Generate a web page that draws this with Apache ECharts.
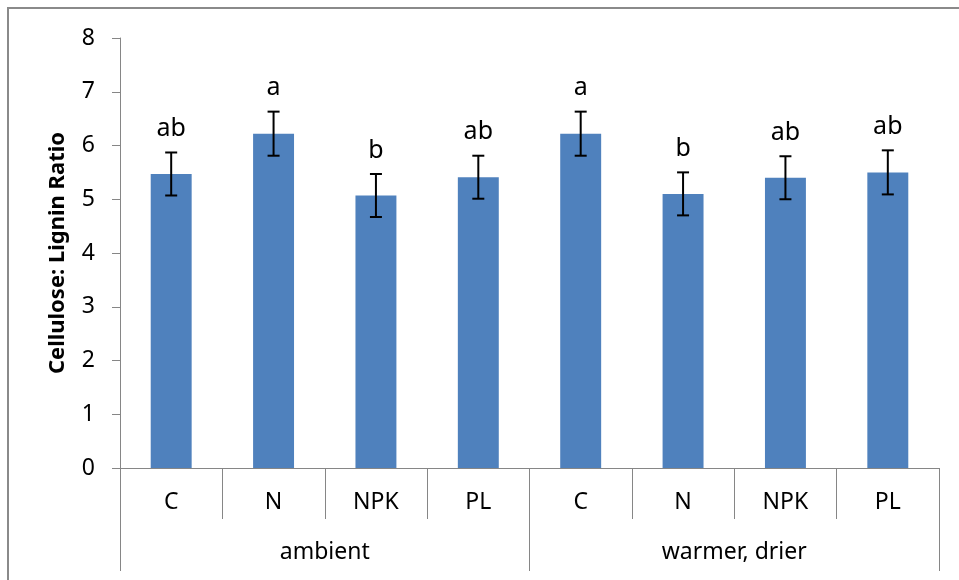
<!DOCTYPE html>
<html>
<head>
<meta charset="utf-8">
<script src="https://cdn.jsdelivr.net/npm/echarts@6/dist/echarts.min.js"></script>
<style>html,body{margin:0;padding:0;background:#fff}#c{width:959px;height:580px}</style>
</head>
<body>
<div id="c"></div>
<script>
const categories = ['C', 'N', 'NPK', 'PL', 'C', 'N', 'NPK', 'PL'];
const groups = ['ambient', 'warmer, drier'];
const values = [5.47, 6.22, 5.07, 5.41, 6.22, 5.10, 5.40, 5.50];
const errors = [0.40, 0.41, 0.40, 0.40, 0.41, 0.40, 0.40, 0.41];
const letters = ['ab', 'a', 'b', 'ab', 'a', 'b', 'ab', 'ab'];
const yTicks = [0, 1, 2, 3, 4, 5, 6, 7, 8];

const FONT = 'Noto Sans';
const GREY = '#868686';

const errData = values.map((v, i) => [i, v - errors[i], v + errors[i], letters[i]]);

const chart = echarts.init(document.getElementById('c'), null, { renderer: 'canvas' });
chart.setOption({
  animation: false,
  textStyle: { fontFamily: FONT },
  graphic: [{
    type: 'rect',
    shape: { x: 8, y: 8, width: 1200, height: 1200 },
    style: { fill: 'none', stroke: '#8a8a8a', lineWidth: 2 },
    silent: true, z: -10
  }],
  grid: { left: 120, right: 20, top: 38, bottom: 112, containLabel: false },
  xAxis: [{
    type: 'category',
    data: categories,
    position: 'bottom',
    axisLine: { show: true, lineStyle: { color: GREY, width: 1 } },
    axisTick: { show: true, interval: 0, length: 51, lineStyle: { color: GREY, width: 1 } },
    axisLabel: { interval: 0, margin: 23, color: '#000', fontSize: 23, fontFamily: FONT },
    splitLine: { show: false }
  }, {
    type: 'category',
    data: groups,
    position: 'bottom',
    axisLine: { show: false },
    axisTick: { show: true, interval: 0, length: 103, lineStyle: { color: GREY, width: 1 } },
    axisLabel: { interval: 0, margin: 73, color: '#000', fontSize: 23, fontFamily: FONT },
    splitLine: { show: false }
  }],
  yAxis: {
    type: 'value',
    min: yTicks[0], max: yTicks[yTicks.length - 1], interval: 1,
    name: 'Cellulose: Lignin Ratio',
    nameLocation: 'middle',
    nameGap: 51,
    nameTextStyle: { fontSize: 22, fontWeight: 'bold', color: '#000', fontFamily: FONT },
    axisLine: { show: true, lineStyle: { color: GREY, width: 1 } },
    axisTick: { show: true, length: 8, lineStyle: { color: GREY, width: 1 } },
    axisLabel: { margin: 25, color: '#000', fontSize: 23, fontFamily: FONT },
    splitLine: { show: false }
  },
  series: [{
    type: 'bar',
    data: values,
    barWidth: '40%',
    itemStyle: { color: '#4F81BD' },
    z: 2
  }, {
    type: 'custom',
    data: errData,
    z: 5,
    renderItem: function (params, api) {
      const i = api.value(0);
      const lo = api.coord([i, api.value(1)]);
      const hi = api.coord([i, api.value(2)]);
      const x = lo[0];
      const hw = 6;
      const st = { stroke: '#000', lineWidth: 2 };
      return {
        type: 'group',
        children: [
          { type: 'line', shape: { x1: x, y1: lo[1], x2: x, y2: hi[1] }, style: st },
          { type: 'line', shape: { x1: x - hw, y1: lo[1], x2: x + hw, y2: lo[1] }, style: st },
          { type: 'line', shape: { x1: x - hw, y1: hi[1], x2: x + hw, y2: hi[1] }, style: st },
          { type: 'text', style: { text: letters[params.dataIndex], x: x, y: hi[1] - 11, align: 'center', verticalAlign: 'bottom', fontSize: 25, fontFamily: FONT, fill: '#000' } }
        ]
      };
    }
  }]
});
</script>
</body>
</html>
